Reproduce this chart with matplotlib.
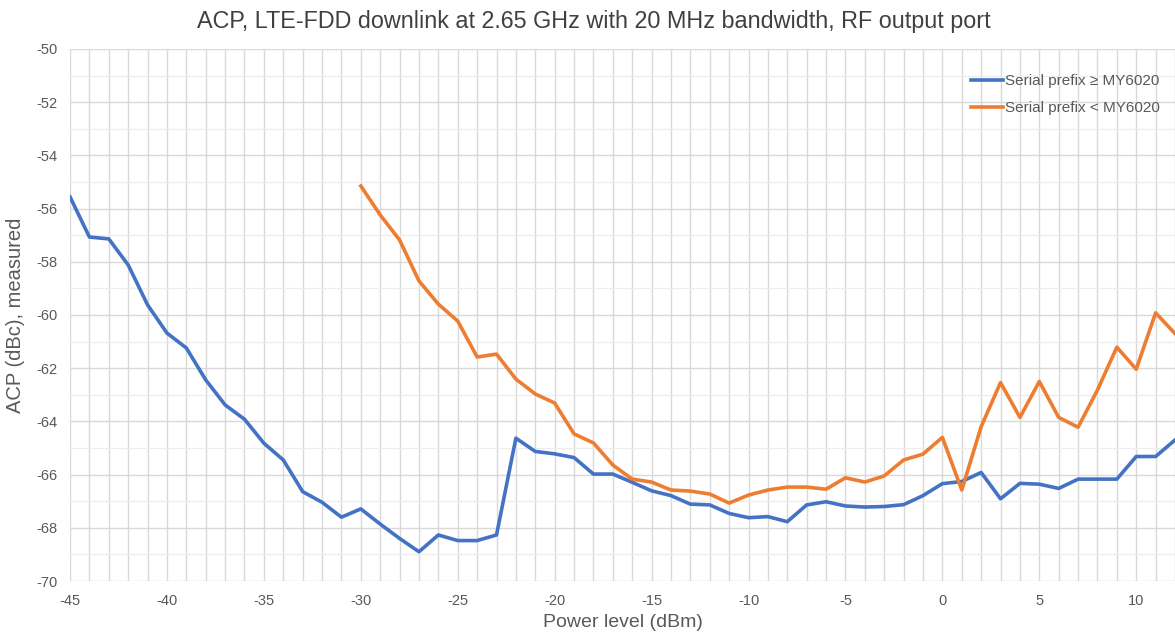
import matplotlib
matplotlib.use("Agg")
import matplotlib.pyplot as plt
import numpy as np

plt.rcParams['font.family'] = ['Liberation Sans', 'DejaVu Sans']
plt.rcParams['axes.unicode_minus'] = False

power_blue = list(range(-45, 13))
acp_blue = [-55.56, -57.07, -57.14, -58.12, -59.62, -60.68, -61.24, -62.44, -63.38, -63.92,
            -64.82, -65.45, -66.64, -67.04, -67.60, -67.29, -67.86, -68.4, -68.90, -68.27,
            -68.48, -68.48, -68.27, -64.63, -65.13, -65.22, -65.36, -65.98, -65.98, -66.29,
            -66.61, -66.79, -67.11, -67.14, -67.46, -67.62, -67.58, -67.77, -67.14, -67.02,
            -67.18, -67.22, -67.20, -67.13, -66.79, -66.34, -66.26, -65.92, -66.91, -66.33,
            -66.36, -66.52, -66.17, -66.17, -66.17, -65.32, -65.32, -64.70]

power_orange = list(range(-30, 13))
acp_orange = [-55.15, -56.24, -57.18, -58.72, -59.59, -60.23, -61.58, -61.47, -62.41, -62.97,
              -63.31, -64.47, -64.81, -65.64, -66.17, -66.28, -66.58, -66.62, -66.73, -67.07,
              -66.77, -66.58, -66.47, -66.47, -66.55, -66.12, -66.28, -66.05, -65.45, -65.23,
              -64.60, -66.58, -64.20, -62.54, -63.85, -62.50, -63.85, -64.22, -62.82, -61.21,
              -62.04, -59.92, -60.70]

labels = ["Serial prefix \u2265 MY6020", "Serial prefix < MY6020"]
title = "ACP, LTE-FDD downlink at 2.65 GHz with 20 MHz bandwidth, RF output port"
xlabel = "Power level (dBm)"
ylabel = "ACP (dBc), measured"

fig = plt.figure(figsize=(11.75, 6.41), dpi=100)
ax = fig.add_axes([0.0596, 0.0936, 0.9404, 0.83])

ax.plot(power_blue, acp_blue, color='#4472C4', lw=2.6, label=labels[0], solid_joinstyle='round', zorder=3)
ax.plot(power_orange, acp_orange, color='#ED7D31', lw=2.6, label=labels[1], solid_joinstyle='round', zorder=3)

ax.set_xlim(-45, 12)
ax.set_ylim(-70, -50)
ax.set_xticks(np.arange(-45, 11, 5))
ax.set_xticks(np.arange(-45, 13, 1), minor=True)
ax.set_yticks(np.arange(-70, -49, 2))
ax.set_yticks(np.arange(-70, -49, 1), minor=True)

ax.grid(True, which='major', axis='both', color='#D9D9D9', lw=1.0, zorder=0)
ax.grid(True, which='minor', axis='x', color='#D9D9D9', lw=1.0, zorder=0)
ax.grid(True, which='minor', axis='y', color='#EDEDED', lw=0.9, zorder=0)

for s in ax.spines.values():
    s.set_visible(False)
ax.tick_params(which='both', length=0)
ax.tick_params(axis='both', labelsize=10.5, labelcolor='#595959')
ax.tick_params(axis='x', pad=9)
ax.tick_params(axis='y', pad=9)

fig.text(0.505, 0.967, title, fontsize=16.8, color='#404040', ha='center', va='center')
ax.set_xlabel(xlabel, fontsize=14, color='#595959', labelpad=5)
ax.set_ylabel(ylabel, fontsize=14.5, color='#595959', labelpad=8)

leg = ax.legend(loc='upper right', bbox_to_anchor=(0.999, 0.978), frameon=False, fontsize=11,
                handlelength=2.1, handletextpad=0.15, labelspacing=0.85)
for t in leg.get_texts():
    t.set_color('#595959')

fig.savefig("out.png", dpi=100)
